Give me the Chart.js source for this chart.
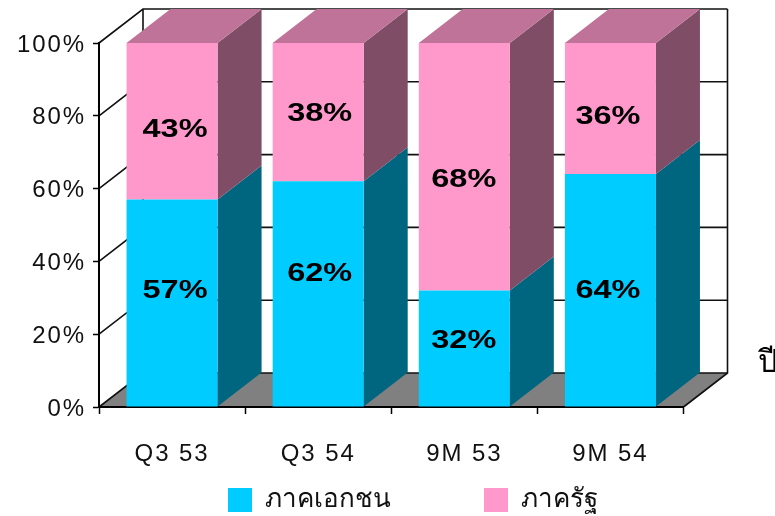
<!DOCTYPE html>
<html>
<head>
<meta charset="utf-8">
<style>
  html, body { margin: 0; padding: 0; background: #fff; overflow: hidden; }
  canvas { display: block; }
</style>
</head>
<body>
<canvas id="myChart" width="775" height="516"></canvas>
<script src="https://cdn.jsdelivr.net/npm/chart.js@4"></script>
<script>
const categories = ["Q3 53", "Q3 54", "9M 53", "9M 54"];
const privateSector = [57, 62, 32, 64];
const stateSector = [43, 38, 68, 36];
const seriesNames = ["ภาคเอกชน", "ภาครัฐ"];
const yearLabel = "ปี";

// label shift from the middle of each segment, the original is not centred
const labelShift = [
  [-12, -20, -7, 1],
  [9, 2, 13, 9],
];
const labelShiftX = [3, 1.5, -0.5, -2.5];

const depthX = 44;
const depthY = 34;
const tickSpacing = "1.9px";
const textFont = '"Liberation Sans", Arial, sans-serif';
const thaiFont = '"Noto Sans", sans-serif';

function poly(ctx, pts, fill) {
  ctx.beginPath();
  pts.forEach((p, i) => (i ? ctx.lineTo(p[0], p[1]) : ctx.moveTo(p[0], p[1])));
  ctx.closePath();
  ctx.fillStyle = fill;
  ctx.fill();
}

const box3d = {
  id: "box3d",
  beforeLayout(chart) {
    // chartArea legends count as vertical, this one is a row
    chart.legend.isHorizontal = () => true;
  },
  afterLayout(chart) {
    // legend sits under the axis, its wide padding is only for the item gap
    const legend = chart.legend;
    const pad = legend.options.labels.padding;
    legend.left = 228 - pad;
    legend.right = 775;
    legend.top = 487 - pad;
    legend.bottom = 516;
    if (!legend.wrapped) {
      const drawLegend = legend.draw;
      legend.draw = function (area) {
        chart.ctx.letterSpacing = "0px";
        drawLegend.call(legend, area);
        chart.ctx.letterSpacing = tickSpacing;
      };
      legend.wrapped = true;
    }
  },
  beforeDraw(chart) {
    const ctx = chart.ctx;
    const { left, right, bottom } = chart.chartArea;
    const y = chart.scales.y;
    ctx.save();
    // floor
    poly(ctx, [[left, bottom], [right, bottom], [right + depthX, bottom - depthY], [left + depthX, bottom - depthY]], "#808080");
    // back wall and side wall lines
    ctx.strokeStyle = "#111";
    ctx.lineWidth = 1.6;
    y.ticks.forEach((t) => {
      const py = y.getPixelForValue(t.value);
      ctx.beginPath();
      ctx.moveTo(left, py);
      ctx.lineTo(left + depthX, py - depthY);
      ctx.lineTo(right + depthX, py - depthY);
      ctx.stroke();
    });
    ctx.beginPath();
    ctx.moveTo(left + depthX, y.getPixelForValue(100) - depthY);
    ctx.lineTo(left + depthX, bottom - depthY);
    ctx.moveTo(right + depthX, y.getPixelForValue(100) - depthY);
    ctx.lineTo(right + depthX, bottom - depthY);
    ctx.lineTo(right, bottom);
    ctx.stroke();
    ctx.restore();
    ctx.letterSpacing = tickSpacing;
  },
  beforeDatasetsDraw(chart) {
    const ctx = chart.ctx;
    const sideColors = ["#006680", "#804D66"];
    ctx.save();
    chart.data.datasets.forEach((ds, d) => {
      chart.getDatasetMeta(d).data.forEach((bar) => {
        const r = bar.x + bar.width / 2;
        const l = bar.x - bar.width / 2;
        poly(ctx, [[r, bar.base], [r, bar.y], [r + depthX, bar.y - depthY], [r + depthX, bar.base - depthY]], sideColors[d]);
        if (d === 1) {
          poly(ctx, [[l, bar.y], [r, bar.y], [r + depthX, bar.y - depthY], [l + depthX, bar.y - depthY]], "#BF7399");
        }
      });
    });
    ctx.restore();
  },
  afterDatasetsDraw(chart) {
    const ctx = chart.ctx;
    ctx.save();
    ctx.letterSpacing = "0px";
    ctx.fillStyle = "#000";
    ctx.textAlign = "center";
    ctx.textBaseline = "middle";
    ctx.font = "bold 25px " + textFont;
    chart.data.datasets.forEach((ds, d) => {
      chart.getDatasetMeta(d).data.forEach((bar, i) => {
        const mid = (bar.y + bar.base) / 2 + labelShift[d][i];
        ctx.save();
        ctx.translate(bar.x + labelShiftX[i], mid);
        ctx.scale(1.3, 1);
        ctx.fillText(ds.data[i] + "%", 0, 0);
        ctx.restore();
      });
    });
    // year mark beside the back wall, runs off the canvas in the original
    ctx.textAlign = "left";
    ctx.font = "31px " + thaiFont;
    ctx.fillText(yearLabel, 758, 363);
    ctx.restore();
  },
};

new Chart(document.getElementById("myChart").getContext("2d"), {
  type: "bar",
  data: {
    labels: categories,
    datasets: [
      { label: seriesNames[0], data: privateSector, backgroundColor: "#00CCFF" },
      { label: seriesNames[1], data: stateSector, backgroundColor: "#FF99CC" },
    ],
  },
  options: {
    responsive: false,
    animation: false,
    layout: { padding: { top: 43, right: 91.5, left: 0, bottom: 0 } },
    datasets: { bar: { barPercentage: 0.623, categoryPercentage: 1, borderWidth: 0 } },
    scales: {
      x: {
        stacked: true,
        afterFit: (s) => { s.height = 109; },
        border: { color: "#000", width: 2 },
        grid: { drawOnChartArea: false, color: "#000", tickLength: 7, tickWidth: 1.5 },
        ticks: { color: "#111", padding: 26, font: { family: textFont, size: 24 } },
      },
      y: {
        stacked: true,
        min: 0,
        max: 100,
        afterFit: (s) => { s.width = 99; },
        border: { color: "#000", width: 2 },
        grid: { drawOnChartArea: false, color: "#000", tickLength: 6, tickWidth: 1.5 },
        ticks: { color: "#111", stepSize: 20, padding: 7, labelOffset: 2, font: { family: textFont, size: 24 }, callback: (v) => v + "%" },
      },
    },
    plugins: {
      tooltip: { enabled: false },
      legend: {
        position: "chartArea",
        align: "start",
        labels: {
          boxWidth: 24,
          boxHeight: 24,
          padding: 93,
          color: "#111",
          font: { family: thaiFont, size: 26 },
        },
      },
    },
  },
  plugins: [box3d],
});
</script>
</body>
</html>
